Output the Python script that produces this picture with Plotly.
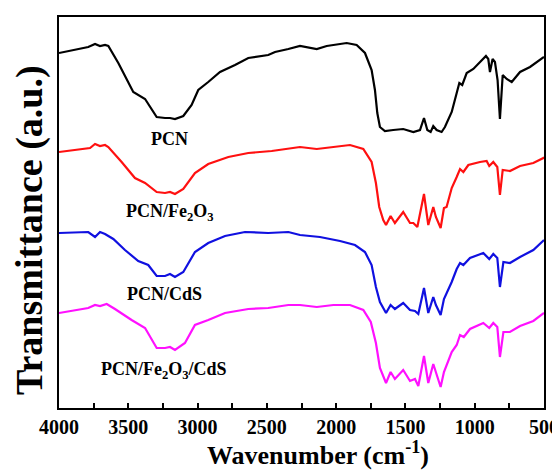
import plotly.graph_objects as go

# Wavenumber (cm^-1) sample points
pcn_w = [4000, 3789, 3740, 3704, 3668, 3644, 3572, 3464, 3379, 3295, 3235, 3199, 3163, 3103, 3043, 2995,
         2923, 2838, 2730, 2634, 2490, 2441, 2345, 2261, 2140, 2068, 1924, 1852, 1792, 1744, 1720, 1703,
         1684, 1648, 1588, 1516, 1443, 1395, 1366, 1342, 1318, 1299, 1275, 1239, 1215, 1166, 1130, 1111,
         1090, 1058, 1010, 962, 919, 902, 890, 871, 854, 835, 818, 798, 769, 733, 673, 601, 517, 500]
pcn_t = [355, 361, 364, 362, 363, 362, 345, 316, 309, 291, 290, 290, 289, 292, 303, 318,
         326, 336, 343, 350, 353, 356, 359, 362, 359, 362, 365, 363, 355, 338, 318, 295,
         281, 277, 278, 279, 276, 278, 290, 278, 276, 282, 278, 276, 281, 296, 315, 325,
         323, 335, 339, 346, 352, 349, 336, 349, 346, 328, 289, 333, 329, 326, 336, 341, 350, 351]

fe_w = [4000, 3776, 3740, 3704, 3668, 3644, 3548, 3452, 3379, 3295, 3235, 3199, 3163, 3103, 3019, 2923,
        2778, 2634, 2465, 2261, 2140, 2020, 1900, 1804, 1744, 1713, 1689, 1660, 1640, 1607, 1576, 1516,
        1467, 1443, 1414, 1366, 1335, 1299, 1280, 1246, 1222, 1203, 1166, 1130, 1106, 1082, 1046, 962,
        914, 895, 866, 837, 818, 798, 746, 673, 577, 505, 500]
fe_t = [256, 260, 264, 262, 263, 261, 246, 230, 225, 216, 215, 216, 214, 219, 235, 244,
        251, 255, 257, 261, 259, 261, 263, 259, 246, 225, 201, 188, 183, 192, 185, 196,
        185, 185, 181, 214, 183, 201, 191, 180, 200, 201, 220, 231, 239, 236, 243, 246,
        247, 242, 246, 241, 213, 238, 237, 242, 245, 250, 251]

cds_w = [4000, 3789, 3740, 3704, 3668, 3608, 3524, 3428, 3356, 3295, 3235, 3199, 3163, 3103, 3019, 2923,
         2802, 2658, 2490, 2345, 2261, 2117, 1972, 1864, 1792, 1744, 1713, 1684, 1640, 1607, 1576, 1516,
         1467, 1431, 1407, 1366, 1335, 1299, 1280, 1246, 1222, 1166, 1130, 1106, 1082, 1034, 938, 895,
         866, 837, 818, 793, 746, 673, 577, 505, 500]
cds_t = [175, 176, 171, 176, 174, 169, 158, 147, 143, 132, 132, 134, 131, 136, 156, 165,
         172, 176, 175, 176, 173, 171, 167, 163, 156, 143, 121, 106, 95, 103, 99, 105,
         98, 97, 94, 120, 95, 111, 103, 93, 109, 126, 139, 145, 143, 150, 155, 149,
         154, 150, 121, 146, 145, 151, 158, 167, 168]

fecds_w = [4000, 3789, 3740, 3704, 3656, 3596, 3476, 3379, 3295, 3235, 3199, 3163, 3091, 3019, 2923, 2802,
           2634, 2490, 2345, 2261, 2140, 2020, 1900, 1804, 1750, 1713, 1684, 1640, 1607, 1576, 1516, 1467,
           1431, 1407, 1366, 1335, 1299, 1280, 1246, 1222, 1166, 1130, 1106, 1079, 1034, 938, 895, 866,
           837, 818, 793, 746, 673, 577, 505, 500]
fecds_t = [95, 100, 103, 102, 104, 99, 88, 80, 60, 60, 61, 58, 65, 83, 88, 95,
           99, 100, 103, 103, 101, 103, 103, 98, 86, 65, 40, 25, 36, 29, 38, 27,
           29, 22, 52, 25, 44, 35, 21, 36, 56, 63, 73, 71, 79, 85, 80, 85,
           81, 51, 76, 76, 82, 87, 94, 95]

labels = ["PCN", "PCN/Fe<sub>2</sub>O<sub>3</sub>", "PCN/CdS", "PCN/Fe<sub>2</sub>O<sub>3</sub>/CdS"]
label_w = [3206, 3200, 3240, 3240]
label_t = [269, 196, 114, 38]
colors = ["#000000", "#ff1010", "#1010e0", "#ff10ff"]

tick_vals = [4000, 3500, 3000, 2500, 2000, 1500, 1000, 500]

FONT = "Times New Roman, Liberation Serif, serif"

fig = go.Figure()
for w, t, c in [(pcn_w, pcn_t, colors[0]), (fe_w, fe_t, colors[1]),
                (cds_w, cds_t, colors[2]), (fecds_w, fecds_t, colors[3])]:
    fig.add_trace(go.Scatter(x=w, y=t, mode="lines", line=dict(color=c, width=2.2),
                             showlegend=False, hoverinfo="skip"))

for lab, x, y in zip(labels, label_w, label_t):
    fig.add_annotation(x=x, y=y, text=lab, showarrow=False, xanchor="center", yanchor="middle",
                       font=dict(family=FONT, size=18, color="#000", weight="bold"))

fig.add_annotation(xref="paper", yref="paper", x=0.534, y=-0.117, text="Wavenumber (cm<sup>-1</sup>)",
                   showarrow=False, xanchor="center", yanchor="middle",
                   font=dict(family=FONT, size=26, color="#000", weight="bold"))
fig.add_annotation(xref="paper", yref="paper", x=-0.062, y=0.455, text="Transmittance (a.u.)",
                   textangle=-90, showarrow=False, xanchor="center", yanchor="middle",
                   font=dict(family=FONT, size=38, color="#000", weight="bold"))

fig.update_layout(
    width=552, height=462,
    margin=dict(l=51, r=16, t=9, b=62, autoexpand=False),
    paper_bgcolor="white", plot_bgcolor="white",
    xaxis=dict(range=[4000, 500], tickvals=tick_vals, ticks="inside", ticklen=5, tickwidth=1.5,
               tickcolor="#000", showline=True, linecolor="#000", linewidth=2, mirror=True,
               showgrid=False, zeroline=False, automargin=False,
               minor=dict(dtick=250, ticks="inside", ticklen=5, tickwidth=1.5, tickcolor="#000", showgrid=False),
               tickfont=dict(family=FONT, size=20, color="#000", weight="bold")),
    yaxis=dict(range=[0, 391], showticklabels=False, ticks="", showline=True, linecolor="#000",
               linewidth=2, mirror=True, showgrid=False, zeroline=False, automargin=False),
)

fig.write_html("out.html")
